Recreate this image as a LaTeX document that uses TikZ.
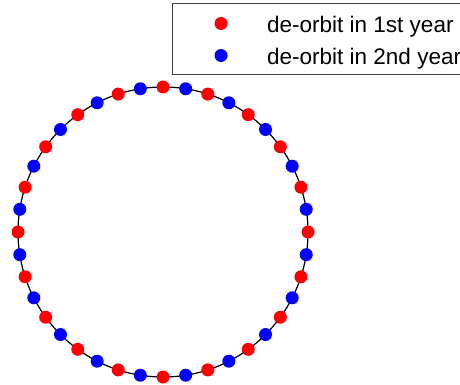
\documentclass[tikz,border=0pt]{standalone}
\usepackage{fontspec}
\setmainfont{Liberation Sans}
\usetikzlibrary{calc}
\begin{document}
\begin{tikzpicture}[x=1pt,y=-1pt,
  reddot/.style={circle,fill=red,inner sep=0pt,minimum size=13pt},
  bluedot/.style={circle,fill=blue,inner sep=0pt,minimum size=13pt},
  legtext/.style={anchor=base west,inner sep=0pt,font=\fontsize{22.5}{27}\selectfont}]
\useasboundingbox (0,0) rectangle (460,385);
\coordinate (c) at (163,232);
\draw[line width=1.2pt] (c) circle[radius=145];
\foreach \i in {0,...,39}{
  \pgfmathtruncatemacro{\odd}{mod(\i,2)}
  \ifnum\odd=0
    \node[reddot] (d\i) at ($(c)+({\i*9}:145 and -145)$) {};
  \else
    \node[bluedot] (d\i) at ($(c)+({\i*9}:145 and -145)$) {};
  \fi
}
\draw[black!75,line width=1pt] (460,4) -- (172,4) -- (172,75) -- (460,75);
\node[reddot] (lr) at (221,23.5) {};
\node[bluedot] (lb) at (221,55.5) {};
\node[legtext] (t1) at (267,33) {de-orbit in 1st year};
\node[legtext] (t2) at (267,65) {de-orbit in 2nd year};
\end{tikzpicture}
\end{document}
